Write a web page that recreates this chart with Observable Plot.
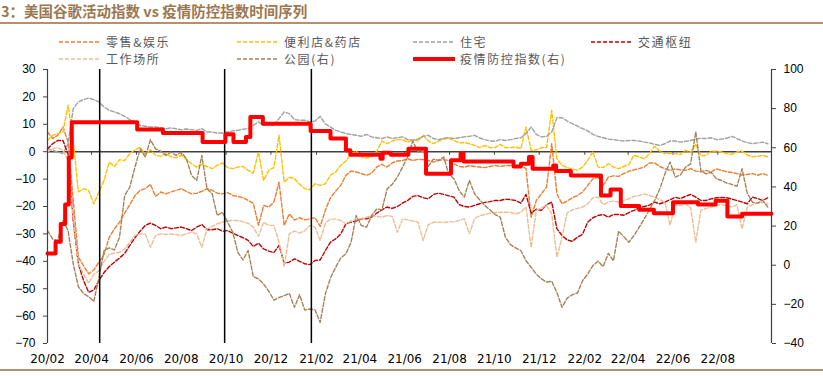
<!DOCTYPE html>
<html><head><meta charset="utf-8">
<script src="https://cdn.jsdelivr.net/npm/d3@7"></script>
<script src="https://cdn.jsdelivr.net/npm/@observablehq/plot@0.6"></script>
<style>
body{margin:0;background:#fff;}
#wrap{position:relative;width:823px;height:376px;overflow:hidden;background:#fff;font-family:"Noto Sans CJK SC",sans-serif;}
#title{position:absolute;left:1px;top:0px;font-size:14.5px;font-weight:bold;color:#9C7750;line-height:22px;white-space:nowrap;}
.hr{position:absolute;left:0;width:823px;height:2px;background:#B3906E;}
.leg{position:absolute;display:flex;align-items:center;font-size:12px;color:#595959;letter-spacing:1.6px;white-space:nowrap;line-height:18px;height:18px;}
.leg span{margin-left:5px;}
#chart{position:absolute;left:0;top:60px;}
</style></head><body>
<div id="wrap">
  <div id="title">3：美国谷歌活动指数 vs 疫情防控指数时间序列</div>
  <div class="hr" style="top:22px"></div>
  <div id="legend"></div>
  <div id="chart"></div>
  <div class="hr" style="top:369px"></div>
</div>
<script>
// ---------- data (weekly, first week 2020-02-15) ----------
const firstWeek = "2020-02-15";
const domainEnd = "2022-10-27";

const retail = [7.2,4.8,6,9,3.5,-17.8,-38.5,-41.6,-44.6,-43.1,
-40.3,-37.5,-31.2,-28.2,-25.7,-22.4,-19.3,-16,-14.1,-13.5,
-11.9,-16.3,-14.7,-15.4,-14.7,-14.1,-13.5,-14.5,-15.4,-15.1,
-14.5,-13.5,-14.1,-15.1,-15.4,-14.9,-16,-16.3,-16.8,-17.8,
-18.8,-26.9,-19.6,-20.2,-18.4,-11.1,-26.9,-22.7,-24.9,-24.1,
-24.9,-24.5,-24.1,-27.3,-21.4,-16.8,-14.4,-12.3,-8.6,-7.1,
-7.4,-8,-8.6,-7.8,-5.6,-4.6,-5.6,-4.1,-3.4,-3.2,
-2.6,-3.2,-2.8,-2.9,-3.2,-3.8,-3.2,-2.9,-3.2,-4.4,
-5.4,-5.6,-5.1,-5.4,-5.6,-5.8,-5.4,-5,-5.4,-5.1,
-5,-5.4,-5,-6.2,-23.9,-17.8,-15.4,-12.9,2.9,-15.4,
-19,-18,-16.8,-16,-14.7,-12.3,-9.9,-9.3,-12.3,-9.3,
-8.8,-9,-8,-7.1,-6.6,-6.2,-5.6,-4.1,-4.1,-5.4,
-6.2,-6.8,-6.3,-6.6,-6.8,-6.2,-7.1,-7.3,-6.8,-7.4,
-6.3,-6.8,-7.3,-7.6,-8,-8.5,-8.3,-8,-8.6,-8,
-8.6];

const grocery = [4.1,6,6.6,7.2,17,4.1,-14.7,-13.5,-14.1,-19,
-14.7,-10.5,-3.8,-5.4,-2.9,-3.2,-0.7,0.7,1.7,-1,
0.7,-1.3,-1.7,-0.7,-1.9,-2.2,-1.3,-2.9,-4.4,-5.6,
-4.6,-5.4,-6.2,-5,-4.1,-5.8,-6.2,-5.6,-5.4,-6.8,
-7.8,-0.1,-10.5,-6.8,-5.8,6,-11.1,-9.3,-9.9,-11.9,
-13.5,-13.9,-11.7,-12.3,-11.7,-8.6,-7.4,-5,-3.4,-0.7,
0.2,-1.9,-2.3,-1.9,0.2,3.9,2.9,3.9,4.4,4.4,
3.5,4.4,3.9,6,3.9,2.9,3.9,4.6,4.9,4.1,
3.2,3.4,2.9,2.3,1.5,2.2,1.5,1.5,2.7,1.5,
1.5,1.7,1.1,9,0.5,0.7,1.5,1.5,15.1,-2.6,
-5,-5.8,-6.3,-6.8,-5.6,-3.2,0,-5.6,-5.8,-4.4,
-5.6,-6.2,-5.4,-4.6,-1.3,-1.9,-2.6,-0.7,2,0.2,
-0.7,-0.5,-0.7,-1,0.5,-0.2,2.7,-1.5,-1.3,0.2,
0.2,-0.1,-0.7,-1,-0.1,0.2,-1.2,-1.9,-1.7,-1.3,
-1.9];

const residential = [1.1,0.5,-0.1,-0.7,2.9,15.7,18.2,19,19.6,19,
18.2,16.3,15.1,14.5,13.9,12.9,11.7,10.9,9.6,9.3,
9,9,8.8,8.4,8.7,8.4,8,8.3,8,7.8,
8.4,7.2,7.2,6.8,6.8,7.2,7.6,7.8,8.2,8.4,
9.6,10.9,9.6,10,9.6,12.1,14.5,13.9,11.7,11.5,
11.5,10.9,11.2,12.9,10.2,9,7.8,7.2,6.6,6.3,
6,5.6,6.3,5.4,5.1,4.8,5.4,4.8,5.1,5.4,
4.4,4.2,4.6,5.6,6,4.8,4.4,4.9,5.1,4.8,
5.1,5.4,5.6,6,5,4.4,3.9,3.8,4.4,4.1,
4.4,4.8,5.1,6.6,9,6.3,5.4,5.6,7.2,12.4,
12.4,11.2,10.2,9.3,8.4,7.6,6.3,5.6,5.1,4.6,
4.4,4.1,3.9,4.1,4.1,3.9,3.5,3.2,2.7,2.3,
2.9,3.9,3.9,3.5,3.8,4.1,4.6,4.9,4.8,5.1,
4.4,4.6,4.9,5.6,4.8,3.9,3.4,2.9,3.2,3.5,
2.9];

const transit = [1.1,2.9,4.1,4.1,-1,-25.1,-40.9,-47,-51.3,-50.5,
-47,-44.1,-41.9,-40.3,-38.8,-37.1,-34.2,-31.4,-29,-26.9,
-26.1,-26.9,-28.1,-27.5,-28.1,-27.8,-27.5,-28.1,-28.8,-27.5,
-26.6,-28.5,-28.5,-28.1,-29,-28.8,-29.7,-30.6,-31.4,-32.4,
-34.6,-33.4,-35.5,-36.3,-36.8,-34.2,-40.7,-40.3,-39.1,-40,
-40.9,-41.2,-39.7,-39.5,-36.1,-33,-31.8,-30,-26.3,-25.7,
-25.3,-24.5,-24.5,-23.9,-22.4,-21.2,-20.2,-20.7,-20,-18.8,
-17.8,-16.3,-16,-16.8,-17.2,-15.6,-15.1,-15.6,-16.1,-16.6,
-19.3,-20,-20.2,-19.6,-19,-18.5,-18.2,-17.8,-17.8,-17.3,
-17.5,-17.8,-18.8,-15.6,-22.4,-21,-21.4,-19.3,-18.4,-28.1,
-30.6,-32.2,-32.7,-31.2,-30.1,-25.7,-24.1,-23.3,-22.9,-23.9,
-22.9,-22.9,-23.2,-22.2,-21.4,-20.5,-20,-19.5,-18.4,-19,
-18.4,-17.5,-16.6,-17.1,-16.3,-15.6,-16.6,-17.8,-17.8,-17.2,
-16.8,-16.7,-16.8,-17.3,-17.8,-18.4,-19,-16.6,-17.1,-17.8,
-16.8];

const workplace = [-0.1,1.1,1.5,0.5,-3.2,-23.9,-40.9,-44.6,-48,-44.8,
-43.4,-40,-37.5,-37,-36.7,-35.5,-33,-30.6,-30,-30,
-34.9,-30.6,-30,-30.2,-30,-30.2,-30.6,-30,-29.4,-30,
-34.9,-28.2,-27.3,-26.3,-25.7,-25.3,-25.1,-25.1,-25.6,-26.1,
-27.5,-30.9,-25.7,-26.9,-26.9,-33,-42,-30,-29,-29.7,
-28.8,-26.9,-27.5,-32.4,-26.1,-24.6,-24.6,-25.1,-26.3,-25.3,
-24.9,-24.4,-23.9,-23.4,-23.6,-23.9,-23.3,-23.6,-29.4,-24.5,
-24.9,-25.3,-25.7,-32.4,-26.6,-25.8,-25.7,-25.8,-25.6,-25.6,
-25.1,-24.5,-30,-24.4,-23.4,-22.9,-22.4,-22.2,-22.1,-22.1,
-22.2,-22.7,-22.1,-20.2,-34.9,-21.4,-20.5,-19.6,-22.7,-38.5,
-31.2,-22.4,-21.2,-20.7,-20.2,-19,-16.8,-16.6,-19.3,-18.4,
-18,-18.4,-17.8,-17.2,-16.3,-16,-15.4,-16,-16.6,-17.5,
-18.4,-26.9,-19.3,-19.6,-19,-20.5,-33,-21.4,-20.7,-20.2,
-19.7,-19.3,-19.7,-20.2,-19.3,-28.2,-20.2,-19.3,-18.8,-18.5,
-19];

// right axis
const parks = [17.7,13.4,12.6,22.8,17.7,0.7,-11,-14.4,-16.1,-18.5,
-6.2,7.5,8.8,7.8,14.3,35.6,39.9,50.1,59.5,55.3,
64.1,59.5,58.3,56.1,57.8,56.1,57.8,54.4,45.9,43.3,
56.1,39,36.5,25.4,27.1,22,16.9,6.6,2.7,7.5,
-5.8,-7,-9.6,-13.3,-17.8,-16.4,-15.6,-14.4,-21.5,-15.1,
-22.9,-22.4,-22.9,-29.2,-14.7,-6.5,-1.1,3.7,5.8,11.7,
25.4,20.3,19.4,25.4,28.8,28.3,39,41.3,45,50.1,
55.3,63.5,57.8,58.3,50.5,54.2,53.6,55.3,46.4,44.2,
38.2,34.8,43.3,36.5,33.4,30.5,28.3,25.9,24.5,14.3,
10.5,8.8,7.5,2.3,-1.1,-4.5,-7,-8.6,-8.2,-13.9,
-21.5,-16.8,-15.1,-14.2,-7.9,-4.5,-0.2,2,-0.7,6.1,
2.3,17.4,14.6,11.7,15.2,19.4,23.7,28.3,33.1,38.9,
46.7,52.7,45,46.1,50.1,51.8,68.1,48.1,46.7,47.4,
44.2,43.3,42,41.3,40.3,49.3,36.8,32.2,31.7,33.1,
29.7];

// right axis, step series
const indexDates = ["2020-02-15","2020-02-26","2020-03-04","2020-03-10","2020-03-15","2020-03-19",
"2020-06-16","2020-07-21","2020-09-13","2020-10-14","2020-10-25","2020-11-11","2020-11-17","2020-12-04",
"2021-02-07","2021-03-06","2021-03-27","2021-04-02","2021-05-13","2021-05-16","2021-05-27","2021-06-20",
"2021-07-14","2021-08-17","2021-08-30","2021-09-03","2021-11-10","2021-11-20","2021-12-01","2021-12-06",
"2022-01-03","2022-01-07","2022-01-27","2022-03-09","2022-03-22","2022-04-05","2022-04-30","2022-05-20",
"2022-06-15","2022-07-19","2022-08-12","2022-08-28","2022-09-17","2022-10-27"];
const indexValues = [6,12,21,31,55,73,
69.4,67.5,63,66.9,63,65.5,75.7,72.3,
68.6,64.7,58.7,56.5,54.4,57.5,56.5,59.5,
46.7,53.6,57.3,53,50.5,51.9,55.3,49.3,
51,48.1,45.9,35.6,38.7,30.2,28.3,26.6,
32.2,31,33,24.9,26.3,26.3];

const eventDates = ["2020-04-26","2020-10-13","2021-02-08"];

const tickLabels = ["20/02","20/04","20/06","20/08","20/10","20/12","21/02","21/04","21/06","21/08","21/10","21/12","22/02","22/04","22/06","22/08"];
const leftTicks = [30,20,10,0,-10,-20,-30,-40,-50,-60,-70];
const rightTicks = [100,80,60,40,20,0,-20,-40];

const seriesNames = ["零售&娱乐","便利店&药店","住宅","交通枢纽","工作场所","公园(右)","疫情防控指数(右)"];
const seriesColors = ["#ED7D31","#FFC000","#A0A0A0","#C00000","#EDBE94","#A5825A","#FF0000"];

// ---------- build ----------
const leftDomain = [-70, 30], rightDomain = [-40, 100];
const toLeft = r => leftDomain[0] + (r - rightDomain[0]) * (leftDomain[1] - leftDomain[0]) / (rightDomain[1] - rightDomain[0]);
const fromLeft = v => rightDomain[0] + (v - leftDomain[0]) * (rightDomain[1] - rightDomain[0]) / (leftDomain[1] - leftDomain[0]);

const start = new Date(firstWeek), end = new Date(domainEnd);
const weeks = d3.range(retail.length).map(i => d3.utcDay.offset(start, 7 * i));
const weekly = [
  {name: seriesNames[0], values: retail, right: false},
  {name: seriesNames[1], values: grocery, right: false},
  {name: seriesNames[2], values: residential, right: false},
  {name: seriesNames[3], values: transit, right: false},
  {name: seriesNames[4], values: workplace, right: false},
  {name: seriesNames[5], values: parks, right: true}
];
const tickDates = tickLabels.map(s => new Date(Date.UTC(2000 + +s.slice(0, 2), +s.slice(3) - 1, 15)));
const labelByTime = new Map(tickDates.map((d, i) => [+d, tickLabels[i]]));
const indexRows = indexDates.map((d, i) => ({date: new Date(d), value: toLeft(indexValues[i])}));

const lineMarks = weekly.map((s, j) => Plot.line(
  s.values.map((v, i) => ({date: weeks[i], value: s.right ? toLeft(v) : v})),
  {x: "date", y: "value", stroke: seriesColors[j], strokeWidth: 1.4, strokeDasharray: "4,2"}
));

const chart = Plot.plot({
  width: 823, height: 316,
  marginLeft: 47, marginRight: 52, marginTop: 9, marginBottom: 33,
  style: {fontFamily: "Liberation Sans, Arial, sans-serif", fontSize: "12px", color: "#000", background: "transparent", overflow: "visible"},
  x: {type: "utc", domain: [start, end]},
  y: {domain: leftDomain},
  marks: [
    Plot.ruleY([0], {stroke: "#404040", strokeWidth: 1.5}),
    Plot.ruleX(tickDates, {y1: 0, y2: -1.3, stroke: "#404040"}),
    ...lineMarks,
    Plot.ruleX(eventDates.map(d => new Date(d)), {stroke: "#000", strokeWidth: 1.5}),
    Plot.line(indexRows, {x: "date", y: "value", curve: "step-after", stroke: seriesColors[6], strokeWidth: 4}),
    Plot.ruleX([start], {stroke: "#404040", strokeWidth: 1.2}),
    Plot.ruleX([end], {stroke: "#404040", strokeWidth: 1.2}),
    Plot.axisY(leftTicks, {anchor: "left", tickSize: 4, tickPadding: 8, label: null, stroke: "#404040"}),
    Plot.axisY(rightTicks.map(toLeft), {anchor: "right", tickSize: 4, tickPadding: 8, label: null, stroke: "#404040",
      tickFormat: d => d3.format("d")(Math.round(fromLeft(d)))}),
    Plot.axisX(tickDates, {anchor: "bottom", tickSize: 0, tickPadding: 11, label: null,
      fontFamily: "DejaVu Sans", fontSize: 12, tickFormat: d => labelByTime.get(+d)})
  ]
});
document.getElementById("chart").appendChild(chart);

// ---------- legend ----------
const legendPos = [[59, 32.5], [237, 32.5], [413, 32.5], [591, 32.5], [59, 50], [237, 50], [413, 50]];
const legend = document.getElementById("legend");
seriesNames.forEach((name, i) => {
  const div = document.createElement("div");
  div.className = "leg";
  div.style.left = legendPos[i][0] + "px";
  div.style.top = legendPos[i][1] + "px";
  const solid = i === 6;
  div.innerHTML = `<svg width="42" height="8"><line x1="0" y1="4" x2="42" y2="4" stroke="${seriesColors[i]}" stroke-width="${solid ? 4 : 1.5}" ${solid ? "" : 'stroke-dasharray="4,2"'}/></svg><span>${name}</span>`;
  legend.appendChild(div);
});
</script>
</body></html>
